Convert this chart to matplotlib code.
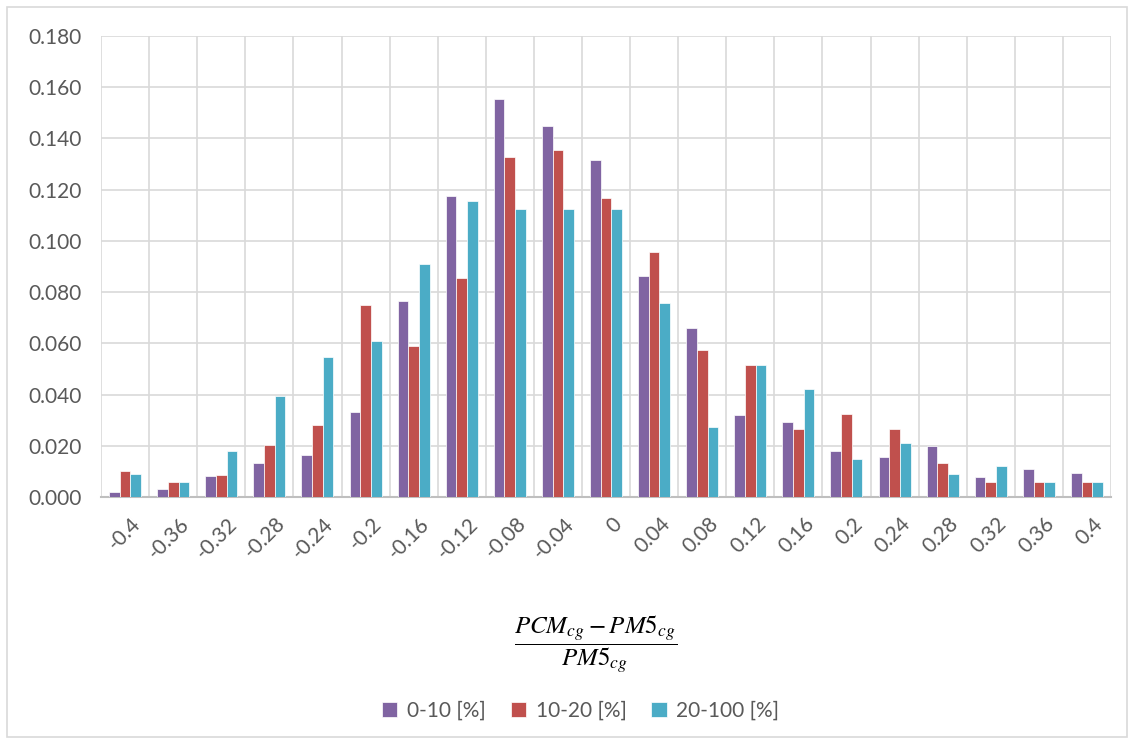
import matplotlib.pyplot as plt
import numpy as np
from matplotlib.patches import Rectangle

plt.rcParams['font.family'] = ['Lato', 'DejaVu Sans']
plt.rcParams['mathtext.fontset'] = 'stix'

categories = ['-0.4', '-0.36', '-0.32', '-0.28', '-0.24', '-0.2', '-0.16', '-0.12',
              '-0.08', '-0.04', '0', '0.04', '0.08', '0.12', '0.16', '0.2',
              '0.24', '0.28', '0.32', '0.36', '0.4']
s_0_10 = [0.0020, 0.0031, 0.0083, 0.0132, 0.0164, 0.0331, 0.0767, 0.1176,
          0.1555, 0.1449, 0.1314, 0.0862, 0.0660, 0.0319, 0.0293, 0.0178,
          0.0157, 0.0200, 0.0079, 0.0110, 0.0094]
s_10_20 = [0.0102, 0.0059, 0.0086, 0.0203, 0.0280, 0.0751, 0.0590, 0.0857,
           0.1327, 0.1355, 0.1166, 0.0958, 0.0574, 0.0514, 0.0264, 0.0324,
           0.0264, 0.0133, 0.0059, 0.0059, 0.0059]
s_20_100 = [0.0089, 0.0059, 0.0180, 0.0394, 0.0546, 0.0608, 0.0911, 0.1156,
            0.1125, 0.1125, 0.1125, 0.0759, 0.0272, 0.0514, 0.0423, 0.0148,
            0.0211, 0.0090, 0.0121, 0.0059, 0.0059]
series_names = ['0-10 [%]', '10-20 [%]', '20-100 [%]']
colors = ['#8064A2', '#C0504D', '#4BACC6']

fig = plt.figure(figsize=(11.34, 7.44), dpi=100)
ax = fig.add_axes([0.0891, 0.332, 0.8906, 0.6196])

x = np.arange(len(categories))
w = 0.222
for i, (vals, name, c) in enumerate(zip([s_0_10, s_10_20, s_20_100], series_names, colors)):
    ax.bar(x + (i - 1) * w, vals, width=w, color=c, edgecolor='white',
           linewidth=0.5, label=name, zorder=3)

ax.set_xlim(-0.5, len(categories) - 0.5)
ax.set_ylim(0, 0.18)
ax.set_yticks(np.arange(0, 0.1801, 0.02))
ax.set_yticklabels([f'{v:.3f}' for v in np.arange(0, 0.1801, 0.02)])
ax.set_xticks(x + 0.12)
ax.set_xticklabels(categories, rotation=45, ha='right', rotation_mode='anchor')
ax.set_xticks(np.arange(-0.5, len(categories), 1), minor=True)

ax.grid(which='minor', axis='x', color='#D9D9D9', linewidth=1.2, zorder=0)
ax.grid(which='major', axis='y', color='#D9D9D9', linewidth=1.2, zorder=0)
ax.grid(which='major', axis='x', visible=False)

for side in ['top', 'right', 'left']:
    ax.spines[side].set_visible(False)
ax.spines['bottom'].set_color('#BFBFBF')
ax.spines['bottom'].set_linewidth(1.5)
ax.tick_params(axis='both', which='both', length=0, labelsize=15, colors='#595959')
ax.tick_params(axis='y', pad=14)
ax.tick_params(axis='x', pad=12)

fig.text(0.525, 0.134, r'$\dfrac{PCM_{cg} - PM5_{cg}}{PM5_{cg}}$', ha='center',
         va='center', fontsize=18, color='black')

fig.legend(loc='center', bbox_to_anchor=(0.512, 0.045), ncol=3, frameon=False,
           fontsize=15, handlelength=0.75, handleheight=0.75, handletextpad=0.45,
           columnspacing=1.2, labelcolor='#595959')

fig.patches.append(Rectangle((0.006, 0.009), 0.988, 0.982, transform=fig.transFigure,
                             fill=False, edgecolor='#D9D9D9', linewidth=1.2))

fig.savefig('out.png', dpi=100)
